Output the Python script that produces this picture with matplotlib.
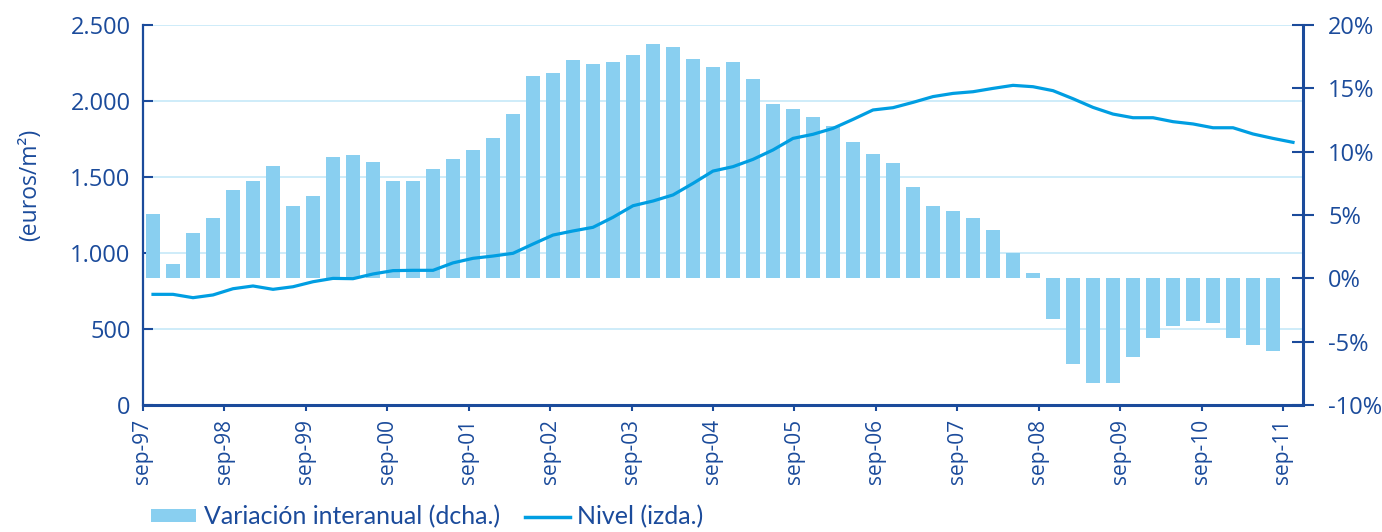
import numpy as np
import matplotlib
matplotlib.use("Agg")
import matplotlib.pyplot as plt
from matplotlib.patches import Patch
from matplotlib.lines import Line2D

# Year labels for the category axis (one per September)
years = ["sep-97", "sep-98", "sep-99", "sep-00", "sep-01", "sep-02", "sep-03",
         "sep-04", "sep-05", "sep-06", "sep-07", "sep-08", "sep-09", "sep-10",
         "sep-11"]

# Quarterly year-on-year change, % (right axis)
variacion = [5.1, 1.1, 3.6, 4.8, 7.0, 7.7, 8.9, 5.7, 6.5, 9.6,
             9.7, 9.2, 7.7, 7.7, 8.6, 9.4, 10.1, 11.1, 13.0, 16.0,
             16.2, 17.2, 16.9, 17.1, 17.6, 18.5, 18.3, 17.3, 16.7, 17.1,
             15.7, 13.8, 13.4, 12.7, 12.0, 10.8, 9.8, 9.1, 7.2, 5.7,
             5.3, 4.8, 3.8, 2.0, 0.4, -3.2, -6.8, -8.3, -8.3, -6.2,
             -4.7, -3.8, -3.4, -3.5, -4.7, -5.3, -5.7]

# Quarterly price level, euros/m2 (left axis)
nivel = [728, 728, 706, 724, 765, 783, 761, 778, 811, 833,
         831, 862, 884, 886, 886, 935, 965, 980, 998, 1059,
         1118, 1145, 1169, 1235, 1311, 1342, 1382, 1458, 1539, 1568,
         1616, 1678, 1754, 1781, 1820, 1879, 1941, 1956, 1991, 2029,
         2050, 2061, 2083, 2103, 2094, 2068, 2015, 1958, 1914, 1890,
         1890, 1864, 1849, 1824, 1824, 1783, 1754, 1728]

left_ticks = [0, 500, 1000, 1500, 2000, 2500]
left_labels = ["0", "500", "1.000", "1.500", "2.000", "2.500"]
right_ticks = [-10, -5, 0, 5, 10, 15, 20]
right_labels = ["-10%", "-5%", "0%", "5%", "10%", "15%", "20%"]

DARK = "#1B4B9B"
BAR = "#89CFF0"
LINE = "#009EE2"
GRID = "#C6E9F8"
FONT = ["Open Sans", "DejaVu Sans"]

plt.rcParams["font.family"] = FONT

fig = plt.figure(figsize=(13.82, 5.32), dpi=100)
W, H = 1382, 532
rect = [143 / W, 1 - 405 / H, 1160 / W, 380 / H]

ax = fig.add_axes(rect)
ax_bar = fig.add_axes(rect)
ax_line = fig.add_axes(rect)

ncat = len(nivel)
xlim = (-0.5, ncat - 0.5)

# Base axes: left scale, grid and year ticks
ax.set_xlim(*xlim)
ax.set_ylim(0, 2500)
ax.set_yticks(left_ticks)
ax.set_yticklabels(left_labels)
ax.yaxis.grid(True, color=GRID, lw=1.2)
ax.set_axisbelow(True)
for s in ("top", "right"):
    ax.spines[s].set_visible(False)
ax.spines["left"].set_color(DARK)
ax.spines["left"].set_linewidth(1.6)
ax.spines["bottom"].set_color(DARK)
ax.spines["bottom"].set_linewidth(2.2)
ax.tick_params(axis="y", direction="in", length=7, width=1.5, color=DARK,
               labelcolor=DARK, labelsize=17, pad=9)
year_pos = np.linspace(-0.5, len(variacion) - 0.5, len(years))
ax.set_xticks(year_pos)
ax.set_xticklabels(years, rotation=90)
ax.tick_params(axis="x", direction="out", length=4, width=1.5, color=DARK,
               labelcolor=DARK, labelsize=15, pad=6)

# Bars on the right-hand percentage scale
ax_bar.patch.set_visible(False)
ax_bar.set_xlim(*xlim)
ax_bar.set_ylim(-10, 20)
ax_bar.bar(np.arange(len(variacion)), variacion, width=0.68, color=BAR,
           linewidth=0)
for s in ("top", "left", "bottom"):
    ax_bar.spines[s].set_visible(False)
ax_bar.spines["right"].set_color(DARK)
ax_bar.spines["right"].set_linewidth(2.2)
ax_bar.yaxis.tick_right()
ax_bar.set_yticks(right_ticks)
ax_bar.set_yticklabels(right_labels)
ax_bar.tick_params(axis="y", direction="inout", length=16, width=1.5,
                   color=DARK, labelcolor=DARK, labelsize=17, pad=10)
ax_bar.set_xticks([])

# Price level line on top
ax_line.set_axis_off()
ax_line.set_xlim(*xlim)
ax_line.set_ylim(0, 2500)
ax_line.plot(np.arange(ncat), nivel, color=LINE, lw=2.3,
             solid_joinstyle="round")

fig.text(30 / W, 1 - 185 / H, "(euros/m²)", rotation=90, ha="center",
         va="center", color=DARK, fontsize=16.5)

handles = [Patch(facecolor=BAR, edgecolor="none"),
           Line2D([], [], color=LINE, lw=2.5)]
labels = ["Variación interanual (dcha.)", "Nivel (izda.)"]
fig.legend(handles, labels, loc="center left",
           bbox_to_anchor=(151 / W, 1 - 517 / H), ncol=2, frameon=False,
           prop={"family": ["Lato", "DejaVu Sans"], "size": 18},
           labelcolor=DARK, handlelength=1.8, handleheight=0.45,
           handletextpad=0.3, columnspacing=1.0, borderaxespad=0,
           borderpad=0)

fig.savefig("out.png", dpi=100)
